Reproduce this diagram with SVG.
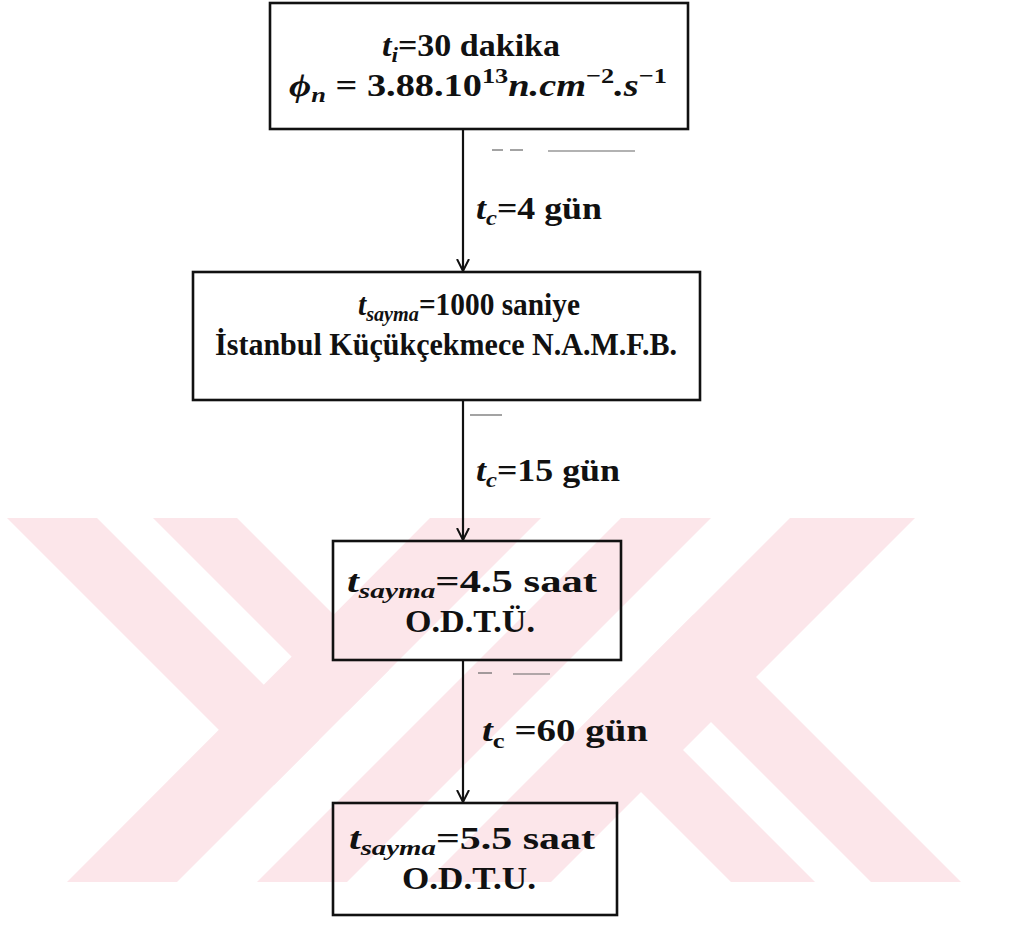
<svg xmlns="http://www.w3.org/2000/svg" width="1015" height="926" viewBox="0 0 1015 926">
<style>
.wm{fill:#fce6ea}
.box{fill:none;stroke:#111;stroke-width:2.6}
.t{font-family:"Liberation Serif","Times New Roman",serif;font-weight:bold;font-size:32px;fill:#111}
.i{font-style:italic}
.s{font-size:22px}
.con{stroke:#111;stroke-width:2.2;fill:none}
.art{stroke:#666;stroke-width:1.2}
</style>
<defs>
<marker id="ah" viewBox="0 0 14 14" refX="12" refY="7" markerWidth="14" markerHeight="14" markerUnits="userSpaceOnUse" orient="auto"><path d="M0,1 L12,7 L0,13" fill="none" stroke="#111" stroke-width="2"/></marker>
</defs>
<rect width="1015" height="926" fill="#fff"/>
<g id="watermark">
<polygon class="wm" points="7,518 97,518 319,740 274,785"/>
<polygon class="wm" points="153,518 237,518 389,670 347,712"/>
<polygon class="wm" points="430,518 541,518 177,882 67,882"/>
<polygon class="wm" points="621,518 711,518 347,882 257,882"/>
<polygon class="wm" points="790,518 915,518 551,882 426,882"/>
<polygon class="wm" points="648.5,659.5 693.5,614.5 961,882 871,882"/>
<polygon class="wm" points="578.5,729.5 620.5,687.5 815,882 731,882"/>
</g>
<g id="connectors">
<line class="con" x1="463" y1="129" x2="463" y2="271" marker-end="url(#ah)"/>
<line class="con" x1="463" y1="400" x2="463" y2="540" marker-end="url(#ah)"/>
<line class="con" x1="463" y1="660" x2="463" y2="802" marker-end="url(#ah)"/>
</g>
<g id="artifacts">
<line class="art" x1="492" y1="150" x2="503" y2="150"/>
<line class="art" x1="510" y1="150" x2="523" y2="150"/>
<line class="art" x1="548" y1="151" x2="635" y2="151"/>
<line class="art" x1="470" y1="415" x2="502" y2="415"/>
<line class="art" x1="478" y1="673" x2="492" y2="673"/>
<line class="art" x1="513" y1="674" x2="550" y2="674"/>
</g>
<g id="node1">
<rect class="box" x="270" y="3" width="418" height="126"/>
<text class="t" x="471" y="56" text-anchor="middle" textLength="178" lengthAdjust="spacingAndGlyphs"><tspan class="i">t</tspan><tspan class="i s" dy="6">i</tspan><tspan dy="-6">=30 dakika</tspan></text>
<text class="t" x="478" y="96" text-anchor="middle" textLength="378" lengthAdjust="spacingAndGlyphs"><tspan class="i">ϕ</tspan><tspan class="i s" dy="6">n</tspan><tspan dy="-6"> = 3.88.10</tspan><tspan class="s" dy="-13">13</tspan><tspan class="i" dy="13">n.cm</tspan><tspan class="s" dy="-13">−2</tspan><tspan class="i" dy="13">.s</tspan><tspan class="s" dy="-13">−1</tspan></text>
</g>
<g id="label1">
<text class="t" x="476" y="219" textLength="126" lengthAdjust="spacingAndGlyphs"><tspan class="i">t</tspan><tspan class="i s" dy="6">c</tspan><tspan dy="-6">=4 gün</tspan></text>
</g>
<g id="node2">
<rect class="box" x="193" y="272" width="507" height="128"/>
<text class="t" x="469" y="315" text-anchor="middle" textLength="222" lengthAdjust="spacingAndGlyphs"><tspan class="i">t</tspan><tspan class="i s" dy="6">sayma</tspan><tspan dy="-6">=1000 saniye</tspan></text>
<text class="t" x="446" y="355" text-anchor="middle" textLength="462" lengthAdjust="spacingAndGlyphs">İstanbul Küçükçekmece N.A.M.F.B.</text>
</g>
<g id="label2">
<text class="t" x="476" y="481" textLength="144" lengthAdjust="spacingAndGlyphs"><tspan class="i">t</tspan><tspan class="i s" dy="6">c</tspan><tspan dy="-6">=15 gün</tspan></text>
</g>
<g id="node3">
<rect class="box" x="333" y="541" width="288" height="119"/>
<text class="t" x="472" y="592" text-anchor="middle" textLength="250" lengthAdjust="spacingAndGlyphs"><tspan class="i">t</tspan><tspan class="i s" dy="6">sayma</tspan><tspan dy="-6">=4.5 saat</tspan></text>
<text class="t" x="470" y="632" text-anchor="middle" textLength="130" lengthAdjust="spacingAndGlyphs">O.D.T.Ü.</text>
</g>
<g id="label3">
<text class="t" x="482" y="741" textLength="166" lengthAdjust="spacingAndGlyphs"><tspan class="i">t</tspan><tspan class="s" dy="7">c</tspan><tspan dy="-7"> =60 gün</tspan></text>
</g>
<g id="node4">
<rect class="box" x="333" y="803" width="284" height="112"/>
<text class="t" x="472" y="849" text-anchor="middle" textLength="246" lengthAdjust="spacingAndGlyphs"><tspan class="i">t</tspan><tspan class="i s" dy="6">sayma</tspan><tspan dy="-6">=5.5 saat</tspan></text>
<text class="t" x="469" y="889" text-anchor="middle" textLength="134" lengthAdjust="spacingAndGlyphs">O.D.T.U.</text>
</g>
</svg>
